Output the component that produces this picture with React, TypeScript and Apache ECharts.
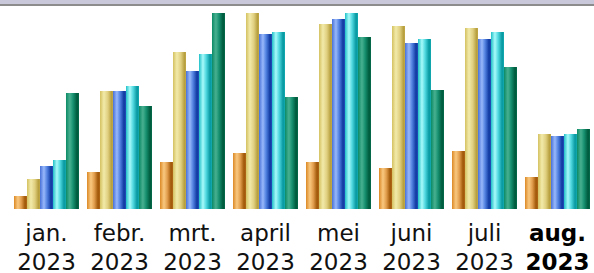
import React, { useEffect, useRef } from "react";
import * as echarts from "echarts";

const categories = ["jan.\n2023", "febr.\n2023", "mrt.\n2023", "april\n2023", "mei\n2023", "juni\n2023", "juli\n2023", "aug.\n2023"];
const seriesOrange = [13, 37, 47, 56, 47, 41, 58, 32];
const seriesKhaki = [30, 118, 157, 196, 185, 183, 181, 75];
const seriesBlue = [43, 118, 138, 175, 190, 166, 170, 73];
const seriesCyan = [49, 123, 155, 177, 196, 170, 177, 75];
const seriesGreen = [116, 103, 196, 112, 172, 119, 142, 80];

const grad = (stops: [number, string][]) =>
  new echarts.graphic.LinearGradient(0, 0, 1, 0, stops.map(([offset, color]) => ({ offset, color })));

const palettes: [number, string][][] = [
  [[0, "#dc8a26"], [0.3, "#f8c880"], [0.55, "#e4a050"], [0.85, "#a05808"], [1, "#b06818"]],
  [[0, "#d4c260"], [0.3, "#f2eaaa"], [0.6, "#e0d080"], [0.88, "#b8a040"], [1, "#c0a848"]],
  [[0, "#4870d8"], [0.3, "#98b8fa"], [0.55, "#5080e0"], [0.85, "#1038a0"], [1, "#2050b8"]],
  [[0, "#20c0c8"], [0.3, "#a8fafa"], [0.55, "#50d8e0"], [0.85, "#0898a0"], [1, "#10a8b0"]],
  [[0, "#0c8a66"], [0.3, "#48b090"], [0.55, "#169070"], [0.85, "#005a3c"], [1, "#006848"]],
];

const base = { fontFamily: "DejaVu Sans", fontSize: 23, color: "#111" };

export default function App() {
  const ref = useRef<HTMLDivElement>(null);
  useEffect(() => {
    if (!ref.current) return;
    const chart = echarts.init(ref.current, undefined, { renderer: "svg" });
    const data = [seriesOrange, seriesKhaki, seriesBlue, seriesCyan, seriesGreen];
    chart.setOption({
      animation: false,
      backgroundColor: "#ffffff",
      graphic: [
        { type: "rect", shape: { x: 0, y: 0, width: 594, height: 4 }, style: { fill: "#c8c8da" } },
        { type: "rect", shape: { x: 0, y: 4, width: 594, height: 2 }, style: { fill: "#8c8c8c" } },
      ],
      grid: { left: 10, right: 0, top: 13, bottom: 64, containLabel: false, outerBoundsMode: "none" },
      xAxis: {
        type: "category",
        data: categories,
        axisLine: { show: false },
        axisTick: { show: false },
        axisLabel: {
          margin: 6,
          interval: 0,
          ...base,
          formatter: (v: string, i: number) => {
            const [a, b] = v.split("\n");
            return i === categories.length - 1 ? `{ab|${a}}\n{cb|${b}}` : `{a|${a}}\n{c|${b}}`;
          },
          rich: {
            a: { ...base, lineHeight: 35 },
            c: { ...base, lineHeight: 23 },
            ab: { ...base, color: "#000", fontWeight: "bold", lineHeight: 35 },
            cb: { ...base, color: "#000", fontWeight: "bold", lineHeight: 23 },
          },
        },
      },
      yAxis: { type: "value", min: 0, max: 196, show: false, splitLine: { show: false } },
      series: data.map((d, i) => ({
        type: "bar",
        data: d,
        barGap: "0%",
        barCategoryGap: "11%",
        itemStyle: { color: grad(palettes[i]) },
      })),
    });
    return () => chart.dispose();
  }, []);
  return <div ref={ref} style={{ width: 594, height: 273, position: "absolute", left: 0, top: 0 }} />;
}
